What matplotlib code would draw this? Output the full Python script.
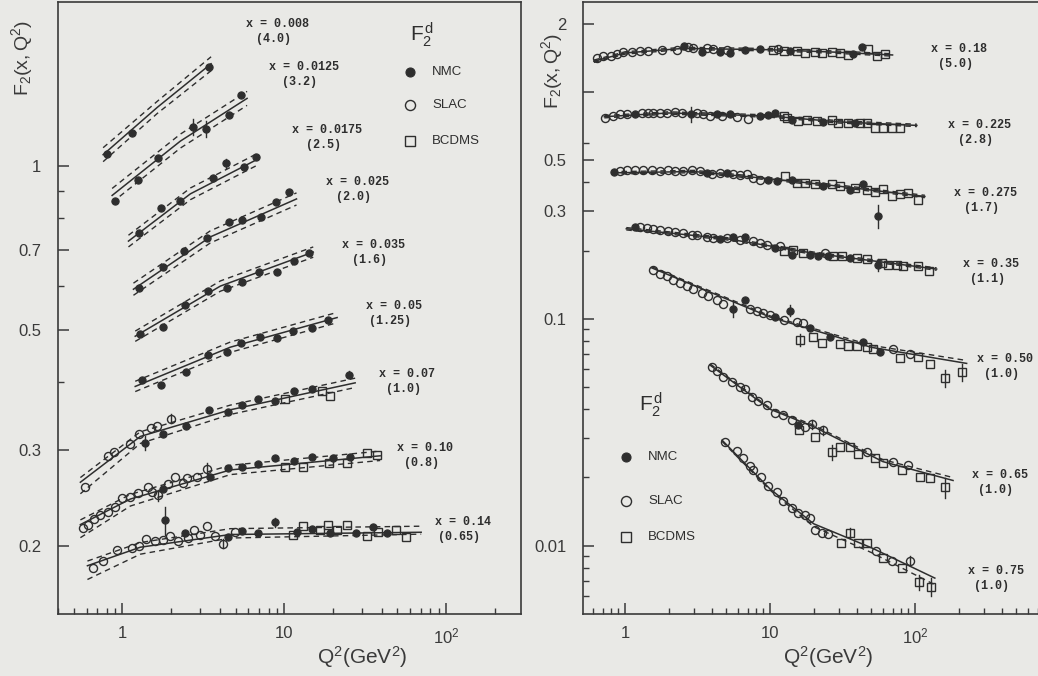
import numpy as np
import matplotlib.pyplot as plt
from matplotlib.ticker import FixedLocator, FixedFormatter, NullFormatter

W, H = 1038, 676
paper = '#e9e9e6'
ink = '#2e2e2e'

# ---------------- left panel : low x bins, F2 scaled by factor in brackets
left_bins = ['0.008', '0.0125', '0.0175', '0.025', '0.035', '0.05', '0.07', '0.10', '0.14']
left_scale = ['(4.0)', '(3.2)', '(2.5)', '(2.0)', '(1.6)', '(1.25)', '(1.0)', '(0.8)', '(0.65)']

left_q2 = [
    [0.80, 1.14, 3.44],
    [0.905, 1.24, 1.67, 2.74, 3.30, 4.58, 5.43],
    [1.27, 1.74, 2.28, 3.64, 4.39, 5.66, 6.72],
    [1.27, 1.77, 2.41, 3.35, 4.58, 5.51, 7.21, 8.93, 10.7],
    [1.29, 1.77, 2.45, 3.40, 4.45, 5.51, 7.01, 9.05, 11.5, 14.3],
    [1.33, 1.74, 2.48, 3.40, 4.45, 5.43, 7.11, 9.05, 11.4, 14.9, 18.7],
    [0.59, 0.81, 0.89, 1.12, 1.27, 1.37, 1.51, 1.64, 1.79, 2.01, 2.48, 3.44, 4.51,
     5.51, 6.92, 8.80, 10.1, 11.5, 14.9, 17.2, 19.2, 25.2],
    [0.574, 0.617, 0.672, 0.732, 0.81, 0.905, 1.0, 1.12, 1.24, 1.43, 1.53, 1.67, 1.79,
     1.90, 2.12, 2.38, 2.52, 2.90, 3.35, 3.49, 4.51, 5.51, 6.92, 8.80, 10.1, 11.5,
     13.1, 14.9, 18.9, 20.1, 24.5, 25.5, 32.5, 37.5],
    [0.662, 0.763, 0.93, 1.15, 1.27, 1.39, 1.60, 1.77, 1.84, 1.98, 2.19, 2.45, 2.55,
     2.78, 3.03, 3.35, 3.75, 4.20, 4.51, 4.99, 5.51, 6.92, 8.80, 11.4, 11.9, 13.1,
     14.9, 16.7, 19.2, 18.7, 21.2, 24.5, 27.8, 32.5, 35.4, 38.0, 43.2, 49.1, 56.6],
]
left_f2 = [
    [1.05, 1.15, 1.52],
    [0.862, 0.942, 1.035, 1.18, 1.17, 1.24, 1.35],
    [0.752, 0.837, 0.862, 0.950, 1.01, 0.996, 1.04],
    [0.595, 0.651, 0.697, 0.737, 0.788, 0.795, 0.805, 0.859, 0.895],
    [0.490, 0.505, 0.554, 0.588, 0.595, 0.611, 0.637, 0.637, 0.668, 0.691],
    [0.403, 0.396, 0.418, 0.448, 0.454, 0.473, 0.484, 0.482, 0.496, 0.503, 0.520],
    [0.257, 0.293, 0.298, 0.308, 0.321, 0.309, 0.330, 0.333, 0.322, 0.343, 0.333, 0.355,
     0.352, 0.364, 0.373, 0.370, 0.372, 0.385, 0.388, 0.385, 0.378, 0.413],
    [0.216, 0.219, 0.224, 0.228, 0.231, 0.236, 0.245, 0.246, 0.250, 0.257, 0.251, 0.248,
     0.255, 0.260, 0.268, 0.261, 0.267, 0.268, 0.277, 0.268, 0.278, 0.280, 0.283, 0.290,
     0.280, 0.287, 0.280, 0.292, 0.284, 0.290, 0.284, 0.292, 0.297, 0.294],
    [0.182, 0.188, 0.197, 0.198, 0.200, 0.206, 0.204, 0.205, 0.223, 0.209, 0.204, 0.211,
     0.207, 0.214, 0.210, 0.218, 0.209, 0.202, 0.208, 0.212, 0.213, 0.211, 0.221, 0.210,
     0.212, 0.218, 0.215, 0.214, 0.211, 0.219, 0.214, 0.219, 0.211, 0.209, 0.217, 0.212,
     0.211, 0.214, 0.208],
]
# N = NMC, S = SLAC, B = BCDMS
left_src = [
    'NNN',
    'NNNNNNN',
    'NNNNNNN',
    'NNNNNNNNN',
    'NNNNNNNNNN',
    'NNNNNNNNNNN',
    'SSSSSNSSNSNNNNNNBNNBBN',
    'SSSSSSSSSSSSNSSSSSSNNNNNBNBNBNBNBB',
    'SSSSSSSSNSSNSSSSSSNSNNNBNBNBNBBBNBNBNBB',
]
left_err = [
    {}, {3: 0.04, 4: 0.04}, {4: 0.02}, {}, {}, {},
    {5: 0.009, 9: 0.007, 21: 0.006},
    {11: 0.006, 18: 0.007},
    {8: 0.013, 17: 0.004, 22: 0.004},
]
left_fit_q2 = [
    [0.76, 1.64, 3.53], [0.864, 2.28, 5.89], [1.09, 2.63, 6.92], [1.17, 3.49, 11.9],
    [1.20, 4.03, 15.1], [1.20, 4.64, 21.2], [0.55, 1.29, 4.64, 27.4],
    [0.55, 1.12, 4.64, 39.1], [0.608, 1.29, 4.64, 70.1],
]
left_fit_f2 = [
    [1.048, 1.28, 1.54], [0.882, 1.11, 1.33], [0.727, 0.888, 1.03], [0.593, 0.740, 0.869],
    [0.486, 0.601, 0.694], [0.393, 0.464, 0.526], [0.262, 0.318, 0.356, 0.399],
    [0.219, 0.244, 0.276, 0.293], [0.184, 0.199, 0.210, 0.212],
]
left_band_up = [
    [1.03, 1.026, 1.03], [1.03, 1.03, 1.03], [1.025, 1.025, 1.025], [1.026, 1.026, 1.026],
    [1.022, 1.022, 1.022], [1.022, 1.022, 1.022], [1.02, 1.02, 1.02, 1.02],
    [1.02, 1.02, 1.02, 1.02], [1.02, 1.02, 1.025, 1.026],
]
left_band_lo = [
    [1.03, 1.026, 1.03], [1.03, 1.03, 1.03], [1.025, 1.025, 1.025], [1.026, 1.026, 1.026],
    [1.022, 1.022, 1.022], [1.022, 1.022, 1.022], [1.05, 1.03, 1.02, 1.02],
    [1.057, 1.03, 1.02, 1.02], [1.06, 1.03, 1.015, 1.008],
]

# ---------------- right panel : high x bins
right_bins = ['0.18', '0.225', '0.275', '0.35', '0.50', '0.65', '0.75']
right_scale = ['(5.0)', '(2.8)', '(1.7)', '(1.1)', '(1.0)', '(1.0)', '(1.0)']

right_q2 = [
    [0.644, 0.708, 0.797, 0.877, 0.975, 1.11, 1.26, 1.45, 1.79, 2.27, 2.56, 2.73, 2.96,
     3.38, 3.66, 4.06, 4.52, 5.02, 5.30, 6.72, 8.53, 10.5, 11.4, 12.4, 13.7, 15.3, 17.4,
     20.4, 22.7, 26.6, 30.4, 34.7, 37.6, 42.9, 47.6, 54.4, 62.1],
    [0.728, 0.831, 0.924, 1.03, 1.17, 1.30, 1.45, 1.57, 1.74, 1.94, 2.21, 2.46, 2.84,
     3.12, 3.47, 3.86, 4.29, 4.64, 5.30, 5.89, 7.09, 8.53, 9.74, 10.8, 12.4, 13.0, 14.1,
     15.7, 17.9, 21.0, 23.3, 26.6, 29.6, 34.7, 38.5, 41.8, 46.4, 53.0, 60.5, 69.0, 78.8],
    [0.844, 0.924, 1.03, 1.17, 1.34, 1.53, 1.74, 1.99, 2.21, 2.53, 2.88, 3.29, 3.66,
     3.96, 4.52, 5.02, 5.59, 6.21, 6.90, 7.67, 8.53, 9.74, 11.1, 12.7, 14.1, 15.3, 17.4,
     20.4, 23.3, 26.6, 30.4, 35.6, 38.5, 44.0, 46.4, 53.0, 60.5, 55.8, 69.0, 78.8, 90.0,
     105],
    [1.17, 1.27, 1.41, 1.57, 1.74, 1.99, 2.21, 2.53, 2.88, 3.12, 3.66, 4.06, 4.52, 5.02,
     5.59, 6.21, 6.72, 7.67, 8.53, 9.49, 10.8, 11.7, 12.4, 14.5, 14.1, 17.0, 18.9, 21.5,
     23.9, 25.3, 27.3, 31.2, 35.6, 39.6, 46.4, 55.8, 58.9, 65.5, 74.8, 83.2, 105, 124],
    [1.57, 1.74, 1.94, 2.15, 2.40, 2.66, 2.96, 3.38, 3.76, 4.29, 4.77, 5.53, 6.72, 7.28,
     8.09, 8.99, 10.0, 10.8, 13.7, 12.4, 15.3, 17.0, 18.9, 16.1, 19.8, 22.8, 25.9, 30.4,
     34.5, 39.8, 43.8, 46.7, 51.3, 57.4, 70.5, 78.8, 92.4, 105, 127, 161, 211],
    [3.98, 4.31, 4.74, 5.47, 6.21, 6.72, 7.51, 8.27, 9.53, 10.8, 12.3, 14.2, 15.6, 15.8,
     17.4, 19.5, 20.4, 23.2, 26.8, 30.4, 35.6, 40.5, 46.7, 53.0, 60.1, 70.5, 81.3, 89.5,
     108, 127, 161],
    [4.89, 5.92, 6.51, 7.28, 7.63, 8.67, 9.69, 11.2, 12.3, 14.2, 15.6, 17.4, 18.9, 20.4,
     22.8, 25.1, 30.9, 35.6, 40.5, 46.7, 53.8, 60.1, 69.4, 81.3, 92.4, 107, 129],
]
right_f2 = [
    [1.41, 1.44, 1.45, 1.47, 1.50, 1.51, 1.52, 1.52, 1.54, 1.54, 1.60, 1.58, 1.56, 1.51,
     1.56, 1.55, 1.51, 1.54, 1.49, 1.54, 1.55, 1.54, 1.55, 1.52, 1.52, 1.52, 1.49, 1.50,
     1.49, 1.51, 1.49, 1.46, 1.47, 1.58, 1.55, 1.45, 1.47],
    [0.773, 0.786, 0.80, 0.80, 0.80, 0.807, 0.807, 0.813, 0.807, 0.813, 0.818, 0.813, 0.80,
     0.813, 0.80, 0.786, 0.80, 0.786, 0.80, 0.781, 0.760, 0.786, 0.792, 0.807, 0.786, 0.773,
     0.755, 0.747, 0.755, 0.747, 0.739, 0.755, 0.729, 0.734, 0.734, 0.729, 0.729, 0.698,
     0.698, 0.698, 0.698],
    [0.444, 0.449, 0.452, 0.453, 0.456, 0.453, 0.449, 0.453, 0.449, 0.449, 0.453, 0.449,
     0.441, 0.438, 0.441, 0.441, 0.434, 0.430, 0.434, 0.419, 0.412, 0.412, 0.405, 0.426,
     0.412, 0.398, 0.396, 0.392, 0.385, 0.392, 0.385, 0.372, 0.378, 0.392, 0.372, 0.362,
     0.374, 0.284, 0.347, 0.354, 0.360, 0.336],
    [0.255, 0.254, 0.252, 0.250, 0.248, 0.245, 0.243, 0.239, 0.235, 0.234, 0.230, 0.227,
     0.225, 0.227, 0.230, 0.224, 0.231, 0.220, 0.216, 0.213, 0.206, 0.209, 0.200, 0.202,
     0.192, 0.195, 0.192, 0.189, 0.195, 0.189, 0.189, 0.190, 0.186, 0.186, 0.184, 0.173,
     0.177, 0.173, 0.173, 0.171, 0.171, 0.162],
    [0.164, 0.158, 0.154, 0.149, 0.144, 0.140, 0.135, 0.130, 0.126, 0.121, 0.117, 0.111,
     0.121, 0.111, 0.108, 0.106, 0.104, 0.102, 0.109, 0.099, 0.0973, 0.0957, 0.091, 0.0807,
     0.0832, 0.0783, 0.0832, 0.0776, 0.0760, 0.0757, 0.0791, 0.0750, 0.0736, 0.0714,
     0.0736, 0.0671, 0.0700, 0.0679, 0.0632, 0.0548, 0.0583],
    [0.0614, 0.0589, 0.0554, 0.0526, 0.0500, 0.0490, 0.0451, 0.0433, 0.0417, 0.0384,
     0.0376, 0.0357, 0.0340, 0.0323, 0.0333, 0.0343, 0.0301, 0.0323, 0.0258, 0.0272,
     0.0272, 0.0255, 0.0258, 0.0243, 0.0231, 0.0233, 0.0215, 0.0226, 0.0200, 0.0198,
     0.0181],
    [0.0286, 0.0261, 0.0243, 0.0224, 0.0215, 0.0200, 0.0184, 0.0172, 0.0158, 0.0147,
     0.0139, 0.0136, 0.0132, 0.0117, 0.0114, 0.0113, 0.0103, 0.0114, 0.0103, 0.0103,
     0.0095, 0.0088, 0.0086, 0.0080, 0.0086, 0.0069, 0.0066],
]
right_src = [
    'SSSSSSSSSSNSSNSSNSNNNBSBNBBBBBBBNNBBB',
    'SSSSNSSSSSSSNSSSNSNSSNNNBBNBBBNBBBNBBBBBB',
    'NSSSSSSSSSSSNSSNSSSSSNNBNBBBNBBNBNBBBNBBBB',
    'NSSSSSSSSSSSNSNSNSSSNSBBNBNNSNBBNBBNBBBBBB',
    'SSSSSSSSSSSNNSSSSNNSSSNBBBNBBBNBBNSBSBBBB',
    'SSSSSSSSSSSSNBSSBSBBBBSBBSBSBBB',
    'SSSSSSSSSSSSSSSSBBBBSBSBSBB',
]
right_err = [
    {},
    {12: 0.06},
    {37: 0.033},
    {35: 0.011},
    {11: 0.009, 18: 0.006, 23: 0.005, 39: 0.0045, 40: 0.005},
    {15: 0.0017, 17: 0.0016, 18: 0.0019, 30: 0.0018},
    {17: 0.0006, 24: 0.0004, 25: 0.0005, 26: 0.0006},
]
right_fit_q2 = [
    [0.61, 1.0, 2.5, 10, 30, 70], [0.72, 2.0, 10, 30, 103], [0.81, 3.0, 10, 30, 117],
    [1.02, 5.0, 20, 141], [1.53, 10, 50, 227], [3.86, 10, 20, 60, 183],
    [4.67, 10, 20, 50, 137],
]
right_fit_f2 = [
    [1.37, 1.49, 1.56, 1.54, 1.50, 1.46], [0.78, 0.81, 0.785, 0.74, 0.714],
    [0.441, 0.447, 0.415, 0.385, 0.347], [0.25, 0.226, 0.195, 0.166],
    [0.168, 0.102, 0.075, 0.0637], [0.0626, 0.040, 0.0335, 0.0235, 0.0194],
    [0.0292, 0.0178, 0.0125, 0.0098, 0.0072],
]
right_band_up = [
    [1.012] * 6, [1.012] * 5, [1.012] * 5, [1.012] * 4,
    [1.012, 1.012, 1.02, 1.03], [1.012, 1.012, 1.015, 1.02, 1.03], [1.0, 1.0, 1.0, 1.0, 1.0],
]
right_band_lo = [
    [1.012] * 6, [1.012] * 5, [1.012] * 5, [1.012] * 4,
    [1.0, 1.0, 1.0, 1.0], [1.0, 1.0, 1.0, 1.0, 1.0], [1.012, 1.012, 1.03, 1.05, 1.07],
]

# label anchor points in figure pixels (x, y of the "x = ..." line)
left_label_px = [(278, 24), (304, 67), (327, 130), (357, 182), (373, 245),
                 (394, 306), (407, 374), (425, 448), (463, 522)]
right_label_px = [(959, 49), (979, 125), (986, 193), (991, 264),
                  (1005, 359), (1000, 475), (996, 571)]

plt.rcParams['font.family'] = ['Liberation Sans', 'DejaVu Sans']
plt.rcParams['mathtext.fontset'] = 'custom'
plt.rcParams['mathtext.rm'] = 'Liberation Sans'
plt.rcParams['mathtext.it'] = 'Liberation Sans'

fig = plt.figure(figsize=(W / 100, H / 100), dpi=100, facecolor=paper)


def fxy(x, y):
    return x / W, 1 - y / H


marker_style = {
    'N': dict(marker='o', ms=5.2, mfc=ink, mec=ink, mew=0.8),
    'S': dict(marker='o', ms=5.8, mfc='none', mec=ink, mew=1.0),
    'B': dict(marker='s', ms=6.0, mfc='none', mec=ink, mew=1.0),
}


def draw_panel(ax, q2s, f2s, srcs, errs, fq, ff, bu, bl):
    for q, f, s, e in zip(q2s, f2s, srcs, errs):
        q = np.array(q)
        f = np.array(f)
        for idx, de in e.items():
            ax.plot([q[idx], q[idx]], [f[idx] - de, f[idx] + de], color=ink, lw=1.0, zorder=3)
        for kind in 'BSN':
            sel = np.array([c == kind for c in s])
            if sel.any():
                ax.plot(q[sel], f[sel], ls='none', zorder=4, **marker_style[kind])
    for q, f, u, l in zip(fq, ff, bu, bl):
        f = np.array(f)
        ax.plot(q, f, color=ink, lw=1.1, zorder=2)
        if max(u) > 1.0:
            ax.plot(q, f * np.array(u), color=ink, lw=1.0, ls=(0, (4, 3)), zorder=2)
        if max(l) > 1.0:
            ax.plot(q, f / np.array(l), color=ink, lw=1.0, ls=(0, (4, 3)), zorder=2)


def style_axes(ax, ymajor, ylabels, yminor):
    ax.set_facecolor('none')
    ax.set_xscale('log')
    ax.set_yscale('log')
    for sp in ax.spines.values():
        sp.set_color('#3a3a3a')
        sp.set_linewidth(1.2)
    ax.xaxis.set_major_locator(FixedLocator([1, 10, 100]))
    ax.xaxis.set_major_formatter(FixedFormatter(['1', '10', r'$\mathregular{10^2}$']))
    ax.xaxis.set_minor_locator(FixedLocator(
        [v * m for m in (0.1, 1, 10, 100) for v in range(2, 10)]))
    ax.xaxis.set_minor_formatter(NullFormatter())
    ax.yaxis.set_major_locator(FixedLocator(ymajor))
    ax.yaxis.set_major_formatter(FixedFormatter(ylabels))
    ax.yaxis.set_minor_locator(FixedLocator(yminor))
    ax.yaxis.set_minor_formatter(NullFormatter())
    ax.tick_params(which='both', direction='in', colors='#3a3a3a', top=False, right=False)
    ax.tick_params(which='major', length=8, width=1.1, labelsize=12, labelcolor='#3a3a3a')
    ax.tick_params(which='minor', length=4.5, width=1.0)
    ax.tick_params(axis='y', which='major', pad=12)
    ax.tick_params(axis='x', which='major', pad=9)


# left axes
axl = fig.add_axes([58 / W, 1 - 614 / H, 463 / W, 612 / H])
draw_panel(axl, left_q2, left_f2, left_src, left_err,
           left_fit_q2, left_fit_f2, left_band_up, left_band_lo)
style_axes(axl, [0.2, 0.3, 0.5, 0.7, 1.0], ['0.2', '0.3', '0.5', '0.7', '1'],
           [0.4, 0.6, 0.8, 0.9])
axl.set_xlim(0.4, 290)
axl.set_ylim(0.15, 2.0)

# right axes runs past the page edge
axr = fig.add_axes([583 / W, 1 - 614 / H, 477 / W, 612 / H])
draw_panel(axr, right_q2, right_f2, right_src, right_err,
           right_fit_q2, right_fit_f2, right_band_up, right_band_lo)
style_axes(axr, [0.01, 0.1, 0.3, 0.5, 1.0, 2.0], ['0.01', '0.1', '0.3', '0.5', '', '2'],
           [0.006, 0.007, 0.008, 0.009, 0.02, 0.03, 0.04, 0.05, 0.06, 0.07, 0.08, 0.09,
            0.2, 0.4, 0.6])
axr.set_xlim(0.513, 1000)
axr.set_ylim(0.005, 2.5)

# bin labels
mono = dict(family=['Liberation Mono', 'DejaVu Sans Mono'], weight='bold', size=8.5,
            color=ink, ha='center', va='center')
for (px, py), b, s in zip(left_label_px + right_label_px,
                          left_bins + right_bins, left_scale + right_scale):
    fig.text(*fxy(px, py), 'x = ' + b, **mono)
    fig.text(*fxy(px - 4, py + 15), s, **mono)

# axis titles
fig.text(*fxy(22, 58), r'$\mathregular{F_2(x,Q^2)}$', rotation=90, fontsize=14,
         color='#3a3a3a', ha='center', va='center')
fig.text(*fxy(552, 71), r'$\mathregular{F_2(x,Q^2)}$', rotation=90, fontsize=14,
         color='#3a3a3a', ha='center', va='center')
fig.text(*fxy(362, 657), r'$\mathregular{Q^2(GeV^2)}$', fontsize=15,
         color='#3a3a3a', ha='center', va='center')
fig.text(*fxy(828, 657), r'$\mathregular{Q^2(GeV^2)}$', fontsize=15,
         color='#3a3a3a', ha='center', va='center')

# legends
legend_names = ['NMC', 'SLAC', 'BCDMS']
legend_marks = ['N', 'S', 'B']
for (tx, ty), (mx, rows) in [((422, 35), (410, [72, 105, 141])),
                             ((651, 405), (626, [457, 501, 537]))]:
    fig.text(*fxy(tx, ty), r'$\mathregular{F_2^{\,d}}$', fontsize=15, color=ink,
             ha='center', va='center')
    for name, kind, ry in zip(legend_names, legend_marks, rows):
        st = dict(marker_style[kind])
        st['ms'] = st['ms'] * 1.25
        fig.lines.append(plt.Line2D([mx / W], [1 - ry / H], transform=fig.transFigure,
                                    ls='none', **st))
        fig.text(*fxy(mx + 22, ry), name, fontsize=9.5, color=ink, ha='left', va='center')

fig.savefig('out.png', dpi=100, facecolor=paper)
